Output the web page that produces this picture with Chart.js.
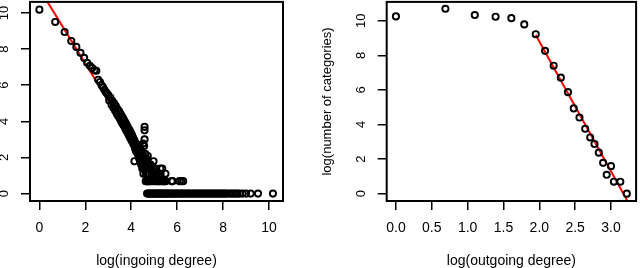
<!DOCTYPE html>
<html>
<head>
<meta charset="utf-8">
<script src="https://cdn.jsdelivr.net/npm/chart.js@4"></script>
<style>
html, body { margin: 0; padding: 0; background: #fff; overflow: hidden; width: 640px; height: 268px; }
canvas { position: absolute; top: -4px; }
#left { left: 0; }
#right { left: 320px; }
</style>
</head>
<body>
<canvas id="left" width="320" height="272"></canvas>
<canvas id="right" width="322" height="272"></canvas>
<script>
// left panel: ingoing degree (log-log)
var inX = [0, 0.69, 1.10, 1.39, 1.61, 1.79, 1.95, 2.08, 2.20, 2.30,
  2.40, 2.48, 2.56, 2.64, 2.71, 2.77, 2.83, 2.89, 2.94, 3.00,
  3.04, 3.09, 3.14, 3.18, 3.22, 3.26, 3.30, 3.33, 3.37, 3.40,
  3.43, 3.47, 3.50, 3.53, 3.56, 3.58, 3.61, 3.64, 3.66, 3.69,
  3.71, 3.74, 3.76, 3.78, 3.81, 3.83, 3.85, 3.87, 3.89, 3.91,
  3.93, 3.95, 3.97, 3.99, 4.01, 4.03, 4.04, 4.06, 4.08, 4.09,
  4.11, 4.13, 4.14, 4.16, 4.17, 4.19, 4.20, 4.22, 4.23, 4.25,
  4.26, 4.28, 4.29, 4.30, 4.32, 4.33, 4.34, 4.36, 4.37, 4.38,
  4.39, 4.41, 4.42, 4.43, 4.44, 4.45, 4.47, 4.48, 4.49, 4.50,
  4.51, 4.52, 4.53, 4.54, 4.55, 4.56, 4.57, 4.58, 4.58, 4.58,
  4.60, 4.61,
  4.62, 4.63, 4.64, 4.65, 4.66, 4.67, 4.68, 4.69, 4.70, 4.71,
  4.72, 4.74, 4.75, 4.77, 4.79, 4.80, 4.82, 4.84, 4.86, 4.88,
  4.90, 4.92, 4.95, 4.97, 4.99, 5.01, 5.03, 5.06, 5.08, 5.11,
  5.14, 5.17, 5.20, 5.24, 5.27, 5.28, 5.31, 5.35, 5.38, 5.42,
  5.46, 5.49, 5.50, 5.76, 5.80, 6.10, 6.18, 6.26,
  4.69, 4.74, 4.79, 4.84, 4.89, 4.94, 4.99, 5.04, 5.09, 5.14,
  5.19, 5.24, 5.29, 5.34, 5.39, 5.44, 5.49, 5.54, 5.59, 5.64,
  5.70, 5.76, 5.82, 5.88, 5.94, 6.00, 6.06, 6.12, 6.18, 6.24,
  6.30, 6.37, 6.44, 6.51, 6.58, 6.65, 6.72, 6.79, 6.86, 6.93,
  7.00, 7.07, 7.14, 7.21, 7.28, 7.35, 7.42, 7.49, 7.56, 7.63,
  7.70, 7.77, 7.84, 7.91, 7.98, 8.05, 8.12, 8.20, 8.30, 8.38,
  8.46, 8.55, 8.62, 8.72, 8.85, 9.00, 9.20, 9.52, 10.17];
var inY = [10.18, 9.50, 8.94, 8.45, 8.12, 7.79, 7.51, 7.24, 7.08, 6.95,
  6.82, 6.80, 6.30, 6.18, 6.00, 5.88, 5.75, 5.62, 5.55, 5.45,
  5.15, 5.32, 4.92, 5.12, 4.75, 4.98, 4.58, 4.85, 4.42, 4.68,
  4.30, 4.55, 4.15, 4.42, 4.00, 4.30, 3.90, 4.18, 3.80, 4.05,
  3.68, 3.95, 3.55, 3.85, 3.45, 3.72, 3.35, 3.62, 3.25, 3.55,
  3.15, 3.45, 3.05, 3.35, 2.95, 3.25, 2.90, 3.15, 2.80, 3.05,
  2.70, 2.95, 1.79, 2.80, 2.48, 2.80, 2.40, 2.71, 2.30, 2.56,
  2.40, 2.64, 2.20, 2.48, 2.08, 2.40, 1.95, 2.30, 2.64, 1.79,
  2.20, 1.95, 2.40, 1.61, 2.08, 1.79, 2.20, 1.39, 1.95, 2.08,
  1.61, 2.77, 1.10, 1.95, 1.39, 2.64, 1.79, 3.69, 3.50, 3.00,
  1.39, 2.20,
  1.61, 0.69, 1.10, 1.95, 1.39, 0.69, 1.79, 1.10, 1.61, 0.69,
  2.08, 1.39, 0.69, 1.10, 1.61, 0.69, 1.39, 1.61, 0.69, 1.10,
  1.39, 0.69, 1.10, 1.79, 1.39, 0.69, 1.10, 1.39, 0.69, 1.10,
  0.69, 1.10, 0.69, 0.69, 1.39, 1.10, 0.69, 1.39, 0.69, 0.69,
  0.69, 1.10, 0.69, 0.69, 0.69, 0.69, 0.69, 0.69,
  0, 0, 0, 0, 0, 0, 0, 0, 0, 0,
  0, 0, 0, 0, 0, 0, 0, 0, 0, 0,
  0, 0, 0, 0, 0, 0, 0, 0, 0, 0,
  0, 0, 0, 0, 0, 0, 0, 0, 0, 0,
  0, 0, 0, 0, 0, 0, 0, 0, 0, 0,
  0, 0, 0, 0, 0, 0, 0, 0, 0, 0,
  0, 0, 0, 0, 0, 0, 0, 0, 0];
var inFitX = [0, 4.59];
var inFitY = [11.34, 1.85];
var inTicksX = [0, 2, 4, 6, 8, 10];
var inTicksY = [0, 2, 4, 6, 8, 10];
var inLabelsX = ['0', '2', '4', '6', '8', '10'];
var inLabelsY = ['0', '2', '4', '6', '8', '10'];

// right panel: outgoing degree (log-log)
var outX = [0, 0.69, 1.10, 1.39, 1.61, 1.79, 1.95, 2.08, 2.20, 2.30,
  2.40, 2.48, 2.56, 2.64, 2.71, 2.77, 2.83, 2.89, 2.94, 3.00,
  3.04, 3.13, 3.22];
var outY = [10.25, 10.69, 10.33, 10.23, 10.15, 9.79, 9.22, 8.26, 7.40, 6.71,
  5.87, 4.93, 4.40, 3.75, 3.25, 2.87, 2.37, 1.78, 1.09, 1.59,
  0.69, 0.69, 0];
var outFitX = [1.95, 3.24];
var outFitY = [9.18, -0.51];
var outTicksX = [0, 0.5, 1, 1.5, 2, 2.5, 3];
var outTicksY = [0, 2, 4, 6, 8, 10];
var outLabelsX = ['0.0', '0.5', '1.0', '1.5', '2.0', '2.5', '3.0'];
var outLabelsY = ['0', '2', '4', '6', '8', '10'];

var FONT = "'Liberation Sans', Arial, Helvetica, sans-serif";

var boxPlugin = {
  id: 'box',
  afterDraw: function(chart) {
    var a = chart.chartArea, c = chart.ctx;
    c.save();
    c.strokeStyle = '#000';
    c.lineWidth = 2;
    c.strokeRect(a.left, a.top, a.right - a.left, a.bottom - a.top);
    c.restore();
  }
};

function pairs(xs, ys) {
  return xs.map(function(x, i) { return {x: x, y: ys[i]}; });
}

function makeChart(id, o) {
  return new Chart(document.getElementById(id), {
    type: 'scatter',
    data: {
      datasets: [{
        data: pairs(o.px, o.py),
        pointStyle: 'circle',
        pointRadius: 3.1,
        pointBorderWidth: 1.9,
        borderColor: '#000',
        backgroundColor: 'rgba(0,0,0,0)'
      }, {
        type: 'line',
        data: pairs(o.fx, o.fy),
        borderColor: '#ff0000',
        borderWidth: 2,
        pointRadius: 0,
        fill: false
      }]
    },
    options: {
      responsive: false,
      animation: false,
      devicePixelRatio: 1,
      layout: { padding: { left: 0, top: 3, right: o.padRight, bottom: 0 } },
      plugins: { legend: { display: false }, tooltip: { enabled: false } },
      scales: {
        x: {
          type: 'linear', min: o.xmin, max: o.xmax,
          afterBuildTicks: function(s) { s.ticks = o.tx.map(function(v) { return {value: v}; }); },
          afterFit: function(s) { s.height = 67; s.paddingLeft = 0; s.paddingRight = 0; },
          border: { display: false },
          grid: { drawOnChartArea: false, drawTicks: true, tickLength: 9, color: '#000', lineWidth: 1.5 },
          ticks: { color: '#000', font: { family: FONT, size: 14 }, padding: 10, maxRotation: 0, autoSkip: false,
            callback: function(v, i) { return o.lx[i]; } },
          title: { display: true, text: o.xtitle, color: '#000', font: { family: FONT, size: 14, lineHeight: 1.0 }, padding: 0 }
        },
        y: {
          type: 'linear', min: o.ymin, max: o.ymax,
          afterBuildTicks: function(s) { s.ticks = o.ty.map(function(v) { return {value: v}; }); },
          afterFit: function(s) { s.width = o.yw; s.paddingTop = 0; s.paddingBottom = 0; },
          border: { display: false },
          grid: { drawOnChartArea: false, drawTicks: true, tickLength: 9, color: '#000', lineWidth: 1.5 },
          ticks: { color: '#000', font: { family: FONT, size: 13 }, padding: 9, minRotation: 90, maxRotation: 90,
            crossAlign: 'center', autoSkip: false,
            callback: function(v, i) { return o.ly[i]; } },
          title: { display: !!o.ytitle, text: o.ytitle, color: '#000', font: { family: FONT, size: 13, lineHeight: 1.1 }, padding: 0 }
        }
      }
    },
    plugins: [boxPlugin]
  });
}

makeChart('left', {
  px: inX, py: inY, fx: inFitX, fy: inFitY,
  xmin: -0.408, xmax: 10.608, ymin: -0.41, ymax: 10.61,
  tx: inTicksX, ty: inTicksY, lx: inLabelsX, ly: inLabelsY,
  xtitle: 'log(ingoing degree)', ytitle: '',
  yw: 30, padRight: 37
});

makeChart('right', {
  px: outX, py: outY, fx: outFitX, fy: outFitY,
  xmin: -0.129, xmax: 3.35, ymin: -0.426, ymax: 11.09,
  tx: outTicksX, ty: outTicksY, lx: outLabelsX, ly: outLabelsY,
  xtitle: 'log(outgoing degree)', ytitle: 'log(number of categories)',
  yw: 66.7, padRight: 2.7
});
</script>
</body>
</html>
